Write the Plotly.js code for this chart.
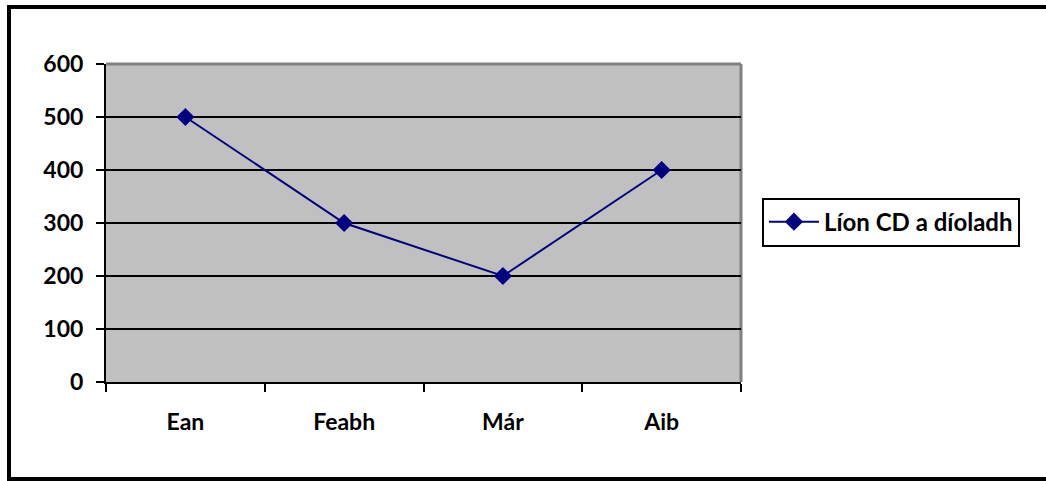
<!DOCTYPE html>
<html>
<head>
<meta charset="utf-8">
<script src="https://cdn.plot.ly/plotly-3.0.1.min.js"></script>
<style>
  html, body { margin: 0; padding: 0; background: #fff; }
  #wrap { position: relative; width: 1046px; height: 481px; overflow: hidden; }
  #chart { width: 1046px; height: 481px; }
  #frame { position: absolute; left: 7px; top: 5px; width: 1060px; height: 468px;
           border: 4px solid #000; pointer-events: none; }
</style>
</head>
<body>
<div id="wrap">
  <div id="chart"></div>
  <div id="frame"></div>
</div>
<script>
const categories = ["Ean", "Feabh", "Már", "Aib"];
const values = [500, 300, 200, 400];
const seriesName = "Líon CD a díoladh";
const yTicks = [0, 100, 200, 300, 400, 500, 600];

const FONT = "Lato, 'Open Sans', sans-serif";
const FS = 23;

const trace = {
  type: "scatter",
  mode: "lines+markers",
  x: categories,
  y: values,
  name: seriesName,
  line: { color: "#000080", width: 2 },
  marker: { symbol: "diamond", size: 14, color: "#000080" },
  showlegend: true
};

const layout = {
  width: 1046,
  height: 481,
  margin: { l: 106, r: 305, t: 64, b: 99 },
  paper_bgcolor: "#ffffff",
  plot_bgcolor: "#c0c0c0",
  font: { family: FONT, size: FS, color: "#000", weight: "bold" },
  showlegend: true,
  xaxis: {
    type: "category",
    range: [-0.5, 3.5],
    fixedrange: true,
    showgrid: false,
    showline: true,
    linecolor: "#000",
    linewidth: 2,
    ticks: "outside",
    tickson: "boundaries",
    ticklen: 8,
    tickwidth: 2,
    tickcolor: "#000",
    ticklabelstandoff: 18,
    tickfont: { family: FONT, size: FS, color: "#000", weight: "bold" },
    zeroline: false
  },
  yaxis: {
    range: [0, 600],
    tickvals: yTicks,
    ticktext: yTicks.map(String),
    fixedrange: true,
    showgrid: true,
    gridcolor: "#000",
    gridwidth: 2,
    showline: true,
    linecolor: "#000",
    linewidth: 2,
    ticks: "outside",
    ticklen: 8,
    tickwidth: 2,
    tickcolor: "#000",
    ticklabelstandoff: 8,
    tickfont: { family: FONT, size: FS, color: "#000", weight: "bold" },
    zeroline: false
  },
  legend: {
    x: 1.033,
    xanchor: "left",
    y: 0.503,
    yanchor: "middle",
    bgcolor: "#ffffff",
    bordercolor: "#000",
    borderwidth: 2,
    font: { family: FONT, size: 24, color: "#000", weight: "bold" },
    itemwidth: 50
  },
  shapes: [
    {
      type: "line", xref: "paper", yref: "paper",
      x0: 0, x1: 1, y0: 1, y1: 1,
      line: { color: "#808080", width: 3 },
      layer: "between"
    },
    {
      type: "line", xref: "paper", yref: "paper",
      x0: 1, x1: 1, y0: 0, y1: 1,
      line: { color: "#808080", width: 3 },
      layer: "between"
    }
  ]
};

Plotly.newPlot("chart", [trace], layout, { displayModeBar: false, staticPlot: true });
</script>
</body>
</html>
